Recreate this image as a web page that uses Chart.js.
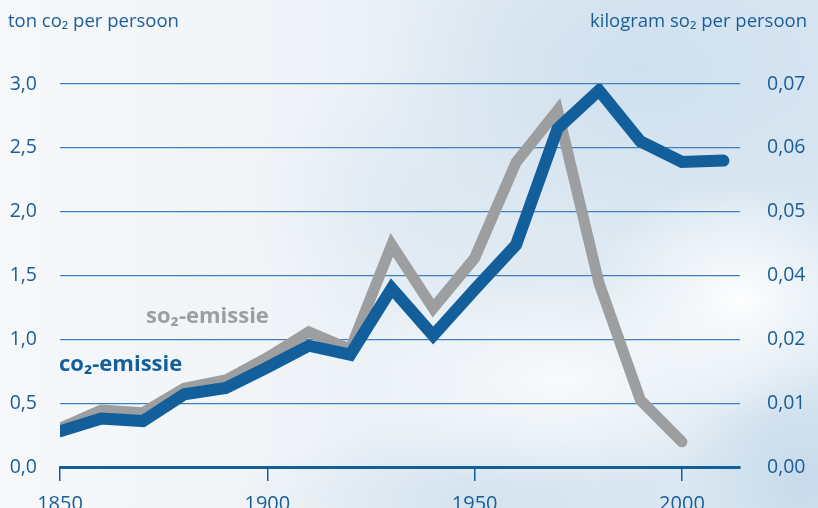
<!DOCTYPE html>
<html>
<head>
<meta charset="utf-8">
<script src="https://cdn.jsdelivr.net/npm/chart.js@4/dist/chart.umd.min.js"></script>
<style>
  html, body { margin: 0; padding: 0; }
  body {
    width: 818px; height: 508px; overflow: hidden;
    background:
      radial-gradient(ellipse 150px 120px at 740px 300px, rgba(255,255,255,0.95), rgba(255,255,255,0) 100%),
      radial-gradient(ellipse 220px 110px at 560px 380px, rgba(255,255,255,0.8), rgba(255,255,255,0) 100%),
      radial-gradient(ellipse 240px 80px at 470px 500px, rgba(200,220,236,0.55), rgba(200,220,236,0) 100%),
      radial-gradient(ellipse 120px 120px at 800px 480px, rgba(196,216,233,0.8), rgba(196,216,233,0) 100%),
      radial-gradient(ellipse 260px 180px at 640px 70px, rgba(204,222,237,0.85), rgba(204,222,237,0) 100%),
      radial-gradient(ellipse 180px 140px at 430px 200px, rgba(218,230,241,0.7), rgba(218,230,241,0) 100%),
      linear-gradient(90deg, #f6f8fa 0%, #f0f4f8 35%, #e1ebf3 62%, #d8e6f1 100%);
  }
  #wrap { position: relative; width: 818px; height: 508px; }
</style>
</head>
<body>
<div id="wrap"><canvas id="chart" width="818" height="508"></canvas></div>
<script>
  const years = [1850, 1860, 1870, 1880, 1890, 1900, 1910, 1920, 1930, 1940, 1950, 1960, 1970, 1980, 1990, 2000, 2010];
  const co2 = [0.28, 0.38, 0.36, 0.57, 0.62, 0.78, 0.95, 0.88, 1.40, 1.03, 1.39, 1.74, 2.65, 2.95, 2.55, 2.39, 2.40];
  const so2Years = [1850, 1860, 1870, 1880, 1890, 1900, 1910, 1920, 1930, 1940, 1950, 1960, 1970, 1980, 1990, 2000];
  const so2 = [0.0071, 0.0104, 0.0099, 0.0144, 0.0159, 0.0200, 0.0247, 0.0215, 0.0406, 0.0290, 0.0382, 0.0557, 0.0652, 0.0336, 0.0122, 0.0046];
  const xTicks = [1850, 1900, 1950, 2000];
  // right axis as printed: seven labels on the six gridlines (0,03 is absent)
  const rightTickLabels = ["0,00", "0,01", "0,02", "0,04", "0,05", "0,06", "0,07"];

  const palette = {
    blue: "#135f9b",
    gray: "#9c9e9f",
    grid: "#3f80c2",
    text: "#1a5d98",
  };
  const font = '"Open Sans", "Noto Sans", sans-serif';

  const labels = {
    id: "labels",
    afterDraw(chart) {
      const ctx = chart.ctx;
      ctx.save();
      ctx.textBaseline = "alphabetic";
      ctx.fillStyle = palette.text;
      ctx.font = "18.5px " + font;
      ctx.textAlign = "left";
      ctx.fillText("ton co\u2082 per persoon", 8, 27);
      ctx.textAlign = "right";
      ctx.fillText("kilogram so\u2082 per persoon", 807, 27);
      ctx.textAlign = "left";
      ctx.font = "bold 22px " + font;
      ctx.fillStyle = palette.gray;
      ctx.fillText("so\u2082-emissie", 146, 323);
      ctx.fillStyle = palette.blue;
      ctx.fillText("co\u2082-emissie", 59, 371);
      ctx.restore();
    },
  };

  new Chart(document.getElementById("chart"), {
    type: "line",
    data: {
      datasets: [
        {
          label: "co2-emissie",
          data: years.map((y, i) => ({ x: y, y: co2[i] })),
          borderColor: palette.blue,
          borderWidth: 12,
          borderCapStyle: "round",
          pointRadius: 0,
          yAxisID: "y",
          order: 1,
        },
        {
          label: "so2-emissie",
          data: so2Years.map((y, i) => ({ x: y, y: so2[i] })),
          borderColor: palette.gray,
          borderWidth: 11,
          borderCapStyle: "round",
          pointRadius: 0,
          yAxisID: "y1",
          order: 2,
        },
      ],
    },
    options: {
      responsive: false,
      animation: false,
      layout: { padding: { top: 84, bottom: 0, left: 0, right: 0 } },
      plugins: { legend: { display: false }, tooltip: { enabled: false } },
      scales: {
        x: {
          type: "linear",
          min: 1850,
          max: 2014,
          afterBuildTicks: (s) => { s.ticks = xTicks.map((v) => ({ value: v })); },
          afterFit: (s) => { s.height = 41; },
          grid: { drawOnChartArea: false, drawTicks: true, tickLength: 14, color: palette.blue, lineWidth: 1.5 },
          border: { display: true, color: palette.blue, width: 3 },
          ticks: { color: palette.text, font: { family: font, size: 20 }, padding: 11, maxRotation: 0, callback: (v) => String(v) },
        },
        y: {
          position: "left",
          min: 0,
          max: 3,
          afterFit: (s) => { s.width = 60; },
          ticks: { stepSize: 0.5, color: palette.text, font: { family: font, size: 19.5 }, padding: 23, callback: (v) => v.toFixed(1).replace(".", ",") },
          grid: { drawTicks: false, color: palette.grid, lineWidth: 1.2 },
          border: { display: false },
        },
        y1: {
          position: "right",
          min: 0,
          max: 0.07,
          afterFit: (s) => { s.width = 78; },
          afterBuildTicks: (s) => { s.ticks = rightTickLabels.map((t, i) => ({ value: (0.07 * i) / (rightTickLabels.length - 1) })); },
          ticks: { color: palette.text, font: { family: font, size: 19.5 }, padding: 27, callback: (v, i) => rightTickLabels[i] },
          grid: { drawOnChartArea: false, drawTicks: false },
          border: { display: false },
        },
      },
    },
    plugins: [labels],
  });
</script>
</body>
</html>
